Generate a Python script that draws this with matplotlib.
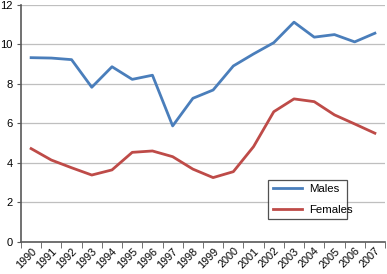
import matplotlib
matplotlib.use("Agg")
import matplotlib.pyplot as plt
import numpy as np

years = [str(y) for y in range(1990, 2008)]
males = [9.33, 9.31, 9.23, 7.83, 8.87, 8.23, 8.44, 5.87, 7.27, 7.69,
         8.91, 9.52, 10.09, 11.13, 10.37, 10.50, 10.13, 10.57]
females = [4.72, 4.14, 3.75, 3.38, 3.64, 4.53, 4.60, 4.31, 3.68, 3.25,
           3.55, 4.82, 6.59, 7.24, 7.10, 6.43, 5.97, 5.50]
y_ticks = [0, 2, 4, 6, 8, 10, 12]

plt.rcParams["font.family"] = ["Liberation Sans", "DejaVu Sans"]

fig = plt.figure(figsize=(3.87, 2.74), dpi=100)
ax = fig.add_axes([21 / 387, 1 - 241.7 / 274, 364 / 387, 236.7 / 274])

x = np.arange(len(years))
ax.plot(x, males, color="#4a7ebb", lw=2, label="Males")
ax.plot(x, females, color="#be4b48", lw=2, label="Females")

ax.set_xlim(-0.5, len(years) - 0.5)
ax.set_ylim(0, 12)
ax.set_yticks(y_ticks)
ax.set_yticklabels([str(v) for v in y_ticks], fontsize=8)
ax.set_xticks(x)
ax.set_xticklabels(years, fontsize=7.8, rotation=45,
                   ha="right", rotation_mode="anchor")
ax.tick_params(axis="x", length=0, pad=3)
ax.set_xticks(np.arange(-0.5, len(years)), minor=True)
ax.tick_params(axis="x", which="minor", length=4, color="#595959")
ax.tick_params(axis="y", length=3, color="#595959", pad=3)

ax.grid(axis="y", color="#bfbfbf", lw=0.9)
ax.set_axisbelow(True)
for s in ("top", "right"):
    ax.spines[s].set_visible(False)
for s in ("left", "bottom"):
    ax.spines[s].set_color("#595959")
    ax.spines[s].set_linewidth(1.2)

leg = ax.legend(loc="lower left", bbox_to_anchor=(0.679, 0.095, 0.217, 0.165),
                mode="expand", fontsize=8.2, frameon=True, fancybox=False,
                handlelength=2.6, handletextpad=0.6, labelspacing=0.9,
                borderaxespad=0)
leg.get_frame().set_edgecolor("#262626")
leg.get_frame().set_linewidth(0.9)

fig.savefig("out.png", dpi=100)
